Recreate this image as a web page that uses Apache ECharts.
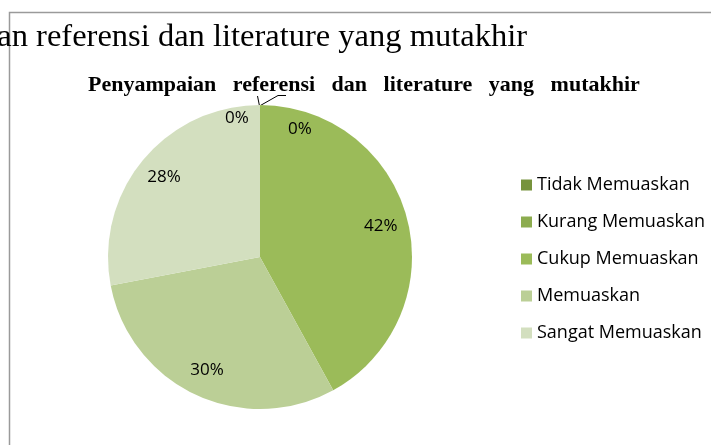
<!DOCTYPE html>
<html>
<head>
<meta charset="utf-8">
<script src="https://cdn.jsdelivr.net/npm/echarts@6/dist/echarts.min.js"></script>
<style>
  html, body { margin: 0; padding: 0; background: #fff; }
  #chart { width: 711px; height: 445px; }
</style>
</head>
<body>
<div id="chart"></div>
<script>
// data (percent)
var categories = ['Tidak Memuaskan', 'Kurang Memuaskan', 'Cukup Memuaskan', 'Memuaskan', 'Sangat Memuaskan']
var values = [0, 0, 42, 30, 28]
var colors = ['#77933c', '#8cac4f', '#9bbb59', '#bbcf96', '#d3dfbf']
var chartTitle = 'Penyampaian referensi dan literature yang mutakhir'

var cx = 260
var cy = 257
var r = 152

var chart = echarts.init(document.getElementById('chart'))

// 0% labels sit off their spot in the original, nudge them
var labelOffsets = [[-23, -14], [40, -3], [0, 0], [0, 0], [0, 0]]

var pieData = categories.map(function(name, i) {
  return { name: name, value: values[i], itemStyle: { color: colors[i] } }
})
var labelData = categories.map(function(name, i) {
  return {
    name: name,
    value: values[i],
    label: { offset: labelOffsets[i] }
  }
})

chart.setOption({
  backgroundColor: '#fff',
  animation: false,
  color: colors,
  title: {
    // word gaps are wide in the original
    text: chartTitle.split(' ').join('   '),
    left: 83,
    top: 69,
    textStyle: {
      fontFamily: 'Liberation Serif',
      fontWeight: 'bold',
      fontSize: 22,
      color: '#000'
    }
  },
  legend: {
    orient: 'vertical',
    left: 516,
    top: 171,
    icon: 'rect',
    itemWidth: 11,
    itemHeight: 11,
    itemGap: 19,
    data: categories,
    textStyle: {
      fontFamily: 'Open Sans',
      fontSize: 18,
      color: '#000'
    }
  },
  graphic: [
    {
      type: 'polyline',
      shape: { points: [[9.5, 445], [9.5, 12.5], [711, 12.5]] },
      style: { stroke: '#9a9a9a', lineWidth: 1.5, fill: null }
    },
    {
      type: 'text',
      x: 527,
      y: 54,
      style: {
        text: chartTitle,
        align: 'right',
        verticalAlign: 'bottom',
        font: '32.5px "Liberation Serif"',
        fill: '#000'
      }
    },
    {
      type: 'polyline',
      shape: { points: [[259.5, 106], [278, 95.5], [286, 95.5]] },
      style: { stroke: '#000', lineWidth: 1, fill: null }
    },
    {
      type: 'polyline',
      shape: { points: [[259.5, 106], [257.5, 96]] },
      style: { stroke: '#000', lineWidth: 1, fill: null }
    }
  ],
  series: [
    {
      type: 'pie',
      center: [cx, cy],
      radius: [0, r],
      startAngle: 90,
      clockwise: true,
      avoidLabelOverlap: false,
      label: { show: false },
      labelLine: { show: false },
      data: pieData
    },
    {
      // transparent ring only to place the percent labels further out
      type: 'pie',
      silent: true,
      center: [cx, cy],
      radius: [r * 0.6, r],
      startAngle: 90,
      clockwise: true,
      avoidLabelOverlap: false,
      itemStyle: { color: 'rgba(0,0,0,0)' },
      label: {
        show: true,
        position: 'inside',
        formatter: '{d}%',
        fontFamily: 'Open Sans',
        fontSize: 17,
        color: '#000'
      },
      labelLine: { show: false },
      data: labelData
    }
  ]
})
</script>
</body>
</html>
